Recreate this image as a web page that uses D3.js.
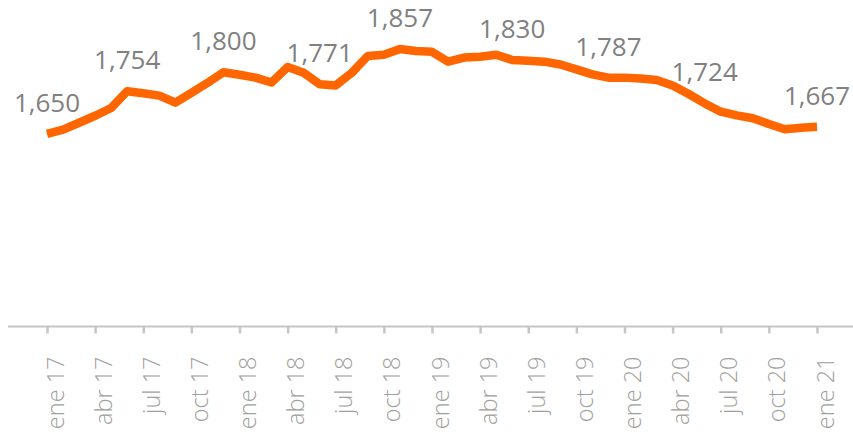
<!DOCTYPE html>
<html>
<head>
<meta charset="utf-8">
<script src="https://cdn.jsdelivr.net/npm/d3@7"></script>
<style>
  html, body { margin: 0; padding: 0; background: #fff; }
  svg { display: block; }
</style>
</head>
<body>
<svg id="viz"></svg>
<script>
// ----------------------- DATA
const months = [
  'ene 17','feb 17','mar 17','abr 17','may 17','jun 17','jul 17','ago 17','sep 17','oct 17','nov 17','dic 17',
  'ene 18','feb 18','mar 18','abr 18','may 18','jun 18','jul 18','ago 18','sep 18','oct 18','nov 18','dic 18',
  'ene 19','feb 19','mar 19','abr 19','may 19','jun 19','jul 19','ago 19','sep 19','oct 19','nov 19','dic 19',
  'ene 20','feb 20','mar 20','abr 20','may 20','jun 20','jul 20','ago 20','sep 20','oct 20','nov 20','dic 20',
  'ene 21'
];

const values = [
  1650, 1660, 1677, 1694, 1713, 1754, 1749, 1743, 1726, 1750, 1774, 1800,
  1794, 1787, 1775, 1813, 1799, 1771, 1768, 1799, 1840, 1843, 1857, 1852,
  1850, 1826, 1836, 1838, 1843, 1830, 1828, 1826, 1819, 1807, 1795, 1787,
  1787, 1785, 1781, 1768, 1747, 1724, 1704, 1695, 1688, 1674, 1661, 1665,
  1667
];

const tickLabels = [
  'ene 17','abr 17','jul 17','oct 17','ene 18','abr 18','jul 18','oct 18',
  'ene 19','abr 19','jul 19','oct 19','ene 20','abr 20','jul 20','oct 20','ene 21'
];

// months that carry a value label
const labelled = ['ene 17','jun 17','dic 17','jun 18','nov 18','jun 19','dic 19','jun 20','ene 21'];

// ----------------------- SETTINGS
const width = 853, height = 432;
const axisY = 326.5;

const data = months.map((m, i) => ({ month: m, value: values[i] }));

const svg = d3.select('#viz')
  .attr('width', width)
  .attr('height', height);

// ----------------------- SCALES
const x = d3.scalePoint()
  .domain(months)
  .range([47, 817]);

const y = d3.scaleLinear()
  .domain([1180, 1900])
  .range([axisY, 31.3]);

// ----------------------- AXIS
const xAxis = d3.axisBottom(x)
  .tickValues(tickLabels)
  .tickSize(7)
  .tickSizeOuter(0);

const gx = svg.append('g')
  .attr('transform', `translate(0, ${axisY})`)
  .call(xAxis);

gx.select('.domain').remove();

// baseline across the whole width
gx.append('line')
  .attr('x1', 8)
  .attr('x2', width)
  .attr('stroke', '#c6c6c6')
  .attr('stroke-width', 2);

gx.selectAll('.tick line')
  .attr('stroke', '#c6c6c6')
  .attr('stroke-width', 2.5);

gx.selectAll('.tick text')
  .attr('transform', 'rotate(-90)')
  .attr('text-anchor', 'end')
  .attr('x', -30)
  .attr('y', 16)
  .attr('dy', 0)
  .attr('fill', '#a0a0a0')
  .style('font-family', '"Open Sans", sans-serif')
  .style('font-weight', 300)
  .style('font-size', '23.5px');

// ----------------------- LINE
const line = d3.line()
  .x(d => x(d.month))
  .y(d => y(d.value));

svg.append('path')
  .datum(data)
  .attr('fill', 'none')
  .attr('stroke', '#ff6600')
  .attr('stroke-width', 8.5)
  .attr('stroke-linejoin', 'round')
  .attr('d', line);

// ----------------------- VALUE LABELS
svg.selectAll('.val')
  .data(data.filter(d => labelled.includes(d.month)))
  .enter().append('text')
  .attr('class', 'val')
  .attr('x', d => x(d.month))
  .attr('y', d => y(d.value) - 22)
  .attr('text-anchor', 'middle')
  .attr('fill', '#808080')
  .style('font-family', '"Open Sans", sans-serif')
  .style('font-size', '26px')
  .text(d => d3.format(',')(d.value));
</script>
</body>
</html>
